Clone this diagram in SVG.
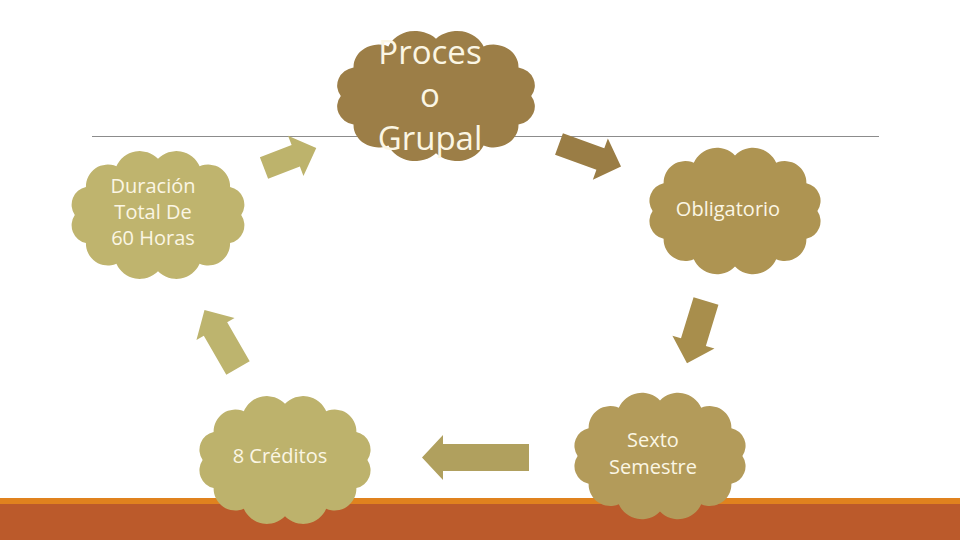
<svg xmlns="http://www.w3.org/2000/svg" width="960" height="540" viewBox="0 0 960 540">
<defs>
<style>
.t{font-family:"Open Sans","Noto Sans","Liberation Sans",sans-serif;fill:#FBF6E4;text-anchor:middle}
.s{font-size:20px}
.b{font-size:33px}
</style>
<path id="cloud" d="M80,0 A17.5,17.5 0 0,1 69.3,27 A21,21 0 0,1 40,46.8 A24.5,24.5 0 0,1 0,54 A24.5,24.5 0 0,1 -40,46.8 A21,21 0 0,1 -69.3,27 A17.5,17.5 0 0,1 -80,0 A17.5,17.5 0 0,1 -69.3,-27 A21,21 0 0,1 -40,-46.8 A24.5,24.5 0 0,1 0,-54 A24.5,24.5 0 0,1 40,-46.8 A21,21 0 0,1 69.3,-27 A17.5,17.5 0 0,1 80,0 Z"/>
</defs>
<rect width="960" height="540" fill="#FFFFFF"/>
<rect x="0" y="498" width="960" height="6" fill="#E0821E"/>
<rect x="0" y="504" width="960" height="36" fill="#BB5A2B"/>
<line x1="92" y1="136.5" x2="879" y2="136.5" stroke="#8C8C8C" stroke-width="1"/>
<g id="connectors">
<path transform="translate(264,168) rotate(-21)" d="M0,-11.5 L34,-11.5 L34,-21.5 L56,0 L34,21.5 L34,11.5 L0,11.5 Z" fill="#BDB36C"/>
<path transform="translate(559,144) rotate(20)" d="M0,-11.5 L44,-11.5 L44,-22 L66,0 L44,22 L44,11.5 L0,11.5 Z" fill="#9A7D45"/>
<path transform="translate(706,301) rotate(107)" d="M0,-13 L43,-13 L43,-22 L65,0 L43,22 L43,13 L0,13 Z" fill="#A88E4C"/>
<path transform="translate(529,457.5) rotate(180)" d="M0,-13.5 L86,-13.5 L86,-22.5 L107,0 L86,22.5 L86,13.5 L0,13.5 Z" fill="#B0A05E"/>
<path transform="translate(238,368) rotate(-120)" d="M0,-13.5 L45,-13.5 L45,-22 L67,0 L45,22 L45,13.5 L0,13.5 Z" fill="#BDB46E"/>
</g>
<g id="n1">
<use href="#cloud" transform="translate(436,96) scale(1.19,1.06)" fill="#9C7E47"/>
<text class="t b" x="430" y="64">Proces</text>
<text class="t b" x="430" y="107">o</text>
<text class="t b" x="430" y="150">Grupal</text>
</g>
<g id="n2">
<use href="#cloud" transform="translate(158,215) scale(1.04,1.04)" fill="#BFB46E"/>
<text class="t s" x="153" y="193">Duración</text>
<text class="t s" x="153" y="219">Total De</text>
<text class="t s" x="153" y="245">60 Horas</text>
</g>
<g id="n3">
<use href="#cloud" transform="translate(735,211) scale(1.03,1.03)" fill="#AE9452"/>
<text class="t s" x="728" y="216">Obligatorio</text>
</g>
<g id="n4">
<use href="#cloud" transform="translate(660,456) scale(1.03,1.03)" fill="#B39B5A"/>
<text class="t s" x="653" y="447">Sexto</text>
<text class="t s" x="653" y="474">Semestre</text>
</g>
<g id="n5">
<use href="#cloud" transform="translate(285,460) scale(1.03,1.04)" fill="#BDB26C"/>
<text class="t s" x="280" y="463">8 Créditos</text>
</g>
</svg>
